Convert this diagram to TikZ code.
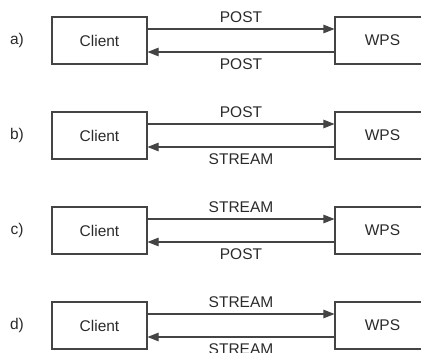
\documentclass[tikz,border=0pt]{standalone}
\usepackage{fontspec}
\setmainfont{Liberation Sans}
\usetikzlibrary{arrows.meta}
\definecolor{ink}{HTML}{2A2A2A}
\definecolor{line}{HTML}{444444}
\begin{document}
\begin{tikzpicture}[x=1pt,y=-1pt,
  box/.style={draw=line, line width=1.1pt, minimum width=95pt, minimum height=47pt, inner sep=0pt, text=ink, font=\fontsize{15.5}{18}\selectfont},
  arr/.style={draw=line, line width=1.1pt, -{Triangle[length=11pt,width=8.5pt]}},
  lbl/.style={text=ink, font=\fontsize{15.5}{18}\selectfont, inner sep=0pt, text height=11pt, text depth=0pt, anchor=center},
  tag/.style={text=ink, font=\fontsize{15.5}{18}\selectfont, inner sep=0pt}
]
\useasboundingbox (0,0) rectangle (421,353);
\begin{scope}
\clip (0,0) rectangle (421,353);
\foreach \r/\y/\top/\bot in {a/40.5/POST/POST, b/135.5/POST/STREAM, c/230.5/STREAM/POST, d/325.5/STREAM/STREAM}{
  \node[tag] (t\r) at (17,\y) {\r)};
  \node[box] (c\r) at (99.5,\y) {Client};
  \node[box] (w\r) at (382.5,\y) {WPS};
  \draw[arr] ([yshift=11.5pt]c\r.east) -- node[lbl, yshift=12pt] {\top} ([yshift=11.5pt]w\r.west);
  \draw[arr] ([yshift=-11.5pt]w\r.west) -- node[lbl, yshift=-12pt] {\bot} ([yshift=-11.5pt]c\r.east);
}
\end{scope}
\end{tikzpicture}
\end{document}
